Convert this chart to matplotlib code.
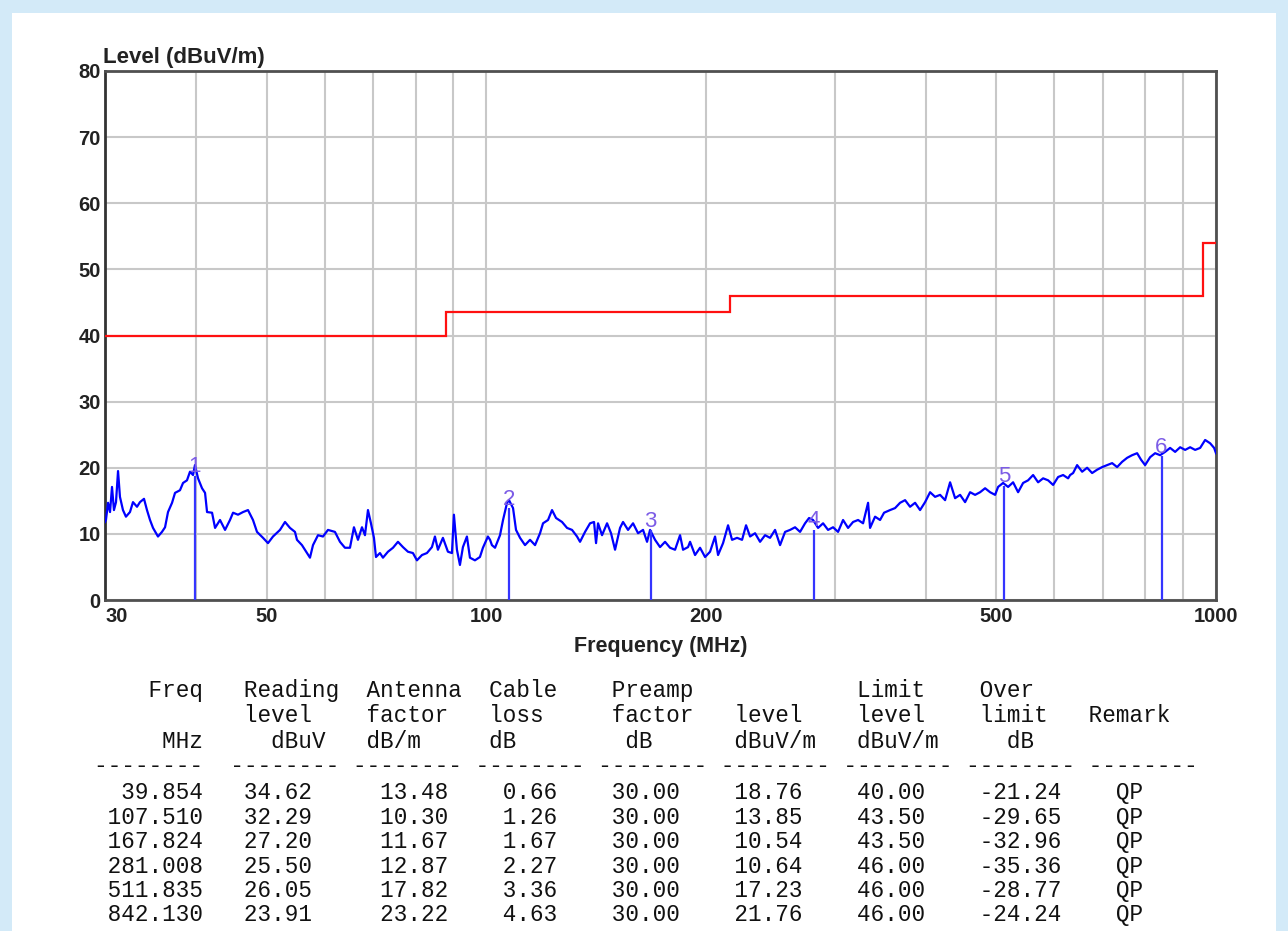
import matplotlib
matplotlib.use('Agg')
import matplotlib.pyplot as plt
from matplotlib.patches import Rectangle
from matplotlib.ticker import FixedLocator, NullFormatter

trace_freq = [30.0, 30.09, 30.29, 30.48, 30.67, 30.86, 31.06, 31.26, 31.45, 31.75,
              32.05, 32.46, 32.77, 33.19, 33.50, 33.93, 34.25, 34.58, 34.91, 35.46,
              35.91, 36.26, 36.60, 37.07, 37.42, 38.01, 38.38, 38.86, 39.23, 39.61,
              39.85, 40.24, 40.75, 41.14, 41.40, 42.06, 42.46, 43.13, 43.82, 44.51,
              44.94, 45.65, 46.38, 47.11, 47.86, 48.47, 49.40, 50.18, 50.98, 52.12,
              52.95, 53.79, 54.64, 54.99, 55.86, 56.75, 57.29, 57.84, 58.76, 59.69,
              60.64, 61.99, 62.98, 63.98, 65.00, 65.82, 66.66, 67.51, 68.15, 68.80,
              69.45, 70.11, 70.56, 71.45, 72.13, 73.28, 74.45, 75.63, 76.83, 78.05,
              79.29, 80.30, 81.58, 82.87, 84.19, 84.99, 85.80, 87.16, 88.55, 89.68,
              90.24, 91.10, 91.97, 92.84, 94.02, 94.92, 96.43, 97.96, 98.89, 100.46,
              101.14, 101.74, 102.74, 104.37, 105.37, 106.71, 107.38, 108.75, 109.78, 111.18,
              112.94, 114.74, 116.57, 118.42, 119.55, 121.45, 122.99, 124.56, 126.94, 128.96,
              131.01, 133.09, 134.36, 136.50, 138.67, 140.43, 141.32, 142.22, 144.02, 146.32,
              148.17, 150.06, 152.44, 153.89, 156.34, 158.83, 161.36, 163.92, 166.01, 167.59,
              170.25, 172.96, 175.71, 178.51, 181.35, 184.23, 185.98, 188.94, 190.14, 193.16,
              196.23, 199.36, 202.53, 205.75, 207.71, 211.01, 214.37, 217.09, 220.55, 224.06,
              226.90, 229.79, 233.44, 237.15, 240.93, 244.76, 248.65, 252.61, 256.63, 260.71,
              264.86, 269.07, 273.35, 276.82, 280.34, 284.80, 289.33, 293.93, 298.61, 303.35,
              308.18, 313.09, 318.07, 323.13, 328.27, 333.49, 335.60, 340.94, 346.36, 350.76,
              357.47, 363.16, 368.94, 374.81, 380.77, 386.83, 392.98, 399.24, 405.59, 412.04,
              418.60, 425.26, 432.02, 438.89, 445.88, 452.97, 460.18, 467.50, 474.94, 482.49,
              490.17, 497.97, 502.70, 510.70, 518.83, 527.08, 535.47, 543.99, 552.64, 561.44,
              570.37, 579.44, 588.66, 598.03, 607.54, 617.21, 627.03, 631.0, 637.0, 645.1,
              655.4, 665.8, 676.4, 687.1, 698.1, 709.2, 720.5, 731.9, 743.6, 755.4,
              767.4, 779.6, 789.5, 799.5, 812.3, 825.2, 838.3, 851.6, 865.2, 879.0,
              893.0, 907.2, 921.6, 936.3, 951.2, 966.3, 981.7, 994.1, 1000.0]
trace_level = [11.8, 12.1, 14.7, 13.3, 17.1, 13.6, 14.8, 19.5, 15.6, 13.6,
               12.6, 13.3, 14.8, 14.1, 14.8, 15.3, 13.6, 12.1, 10.9, 9.6,
               10.3, 11.0, 13.3, 14.7, 16.2, 16.6, 17.7, 18.1, 19.4, 18.9,
               20.4, 18.4, 16.9, 16.2, 13.3, 13.2, 10.9, 12.1, 10.6, 12.1,
               13.2, 12.9, 13.3, 13.6, 12.1, 10.3, 9.4, 8.6, 9.6, 10.6,
               11.8, 10.9, 10.3, 9.1, 8.3, 7.1, 6.4, 8.3, 9.8, 9.6,
               10.6, 10.3, 8.8, 7.9, 7.9, 11.0, 9.1, 11.0, 9.8, 13.6,
               11.6, 9.4, 6.5, 7.1, 6.4, 7.3, 7.9, 8.8, 8.0, 7.3,
               7.1, 6.0, 6.8, 7.1, 8.0, 9.6, 7.6, 9.4, 7.3, 7.1,
               12.9, 7.6, 5.3, 8.0, 9.6, 6.4, 6.0, 6.5, 7.9, 9.6,
               9.1, 8.3, 7.9, 9.8, 12.1, 14.7, 15.1, 13.9, 10.6, 9.4,
               8.3, 9.1, 8.3, 10.1, 11.6, 12.1, 13.6, 12.4, 11.8, 10.9,
               10.6, 9.6, 8.8, 10.3, 11.6, 11.8, 8.6, 11.6, 9.8, 11.6,
               10.1, 7.6, 10.9, 11.8, 10.6, 11.6, 10.1, 10.6, 8.8, 10.6,
               9.1, 8.0, 8.8, 7.9, 7.6, 9.8, 7.6, 8.0, 8.8, 6.8,
               7.9, 6.5, 7.3, 9.6, 6.8, 8.6, 11.3, 9.1, 9.4, 9.1,
               11.3, 9.6, 10.1, 8.8, 9.8, 9.4, 10.6, 8.3, 10.3, 10.6,
               11.0, 10.3, 11.6, 12.4, 12.1, 10.9, 11.6, 10.6, 11.0, 10.3,
               12.1, 10.9, 11.8, 12.1, 11.6, 14.7, 10.9, 12.6, 12.1, 13.2,
               13.6, 13.9, 14.7, 15.1, 14.1, 14.7, 13.6, 14.8, 16.3, 15.6,
               15.9, 15.1, 17.8, 15.4, 15.9, 14.8, 16.3, 15.9, 16.3, 16.9,
               16.3, 15.9, 17.1, 17.7, 17.1, 17.8, 16.3, 17.7, 18.1, 18.9,
               17.8, 18.4, 18.1, 17.4, 18.6, 18.9, 18.4, 18.9, 19.2, 20.4,
               19.4, 20.0, 19.2, 19.7, 20.1, 20.4, 20.7, 20.1, 20.9, 21.5,
               21.9, 22.2, 21.2, 20.4, 21.6, 22.2, 21.9, 22.4, 23.0, 22.4,
               23.1, 22.7, 23.1, 22.7, 23.0, 24.2, 23.7, 23.0, 22.2]

# limit line (FCC class B, 3 m)
limit_edges = [30, 88, 216, 960, 1000]
limit_values = [40.0, 43.5, 46.0, 54.0]

# final measurement table
freqs = [39.854, 107.510, 167.824, 281.008, 511.835, 842.130]
reading = [34.62, 32.29, 27.20, 25.50, 26.05, 23.91]
antenna = [13.48, 10.30, 11.67, 12.87, 17.82, 23.22]
cable = [0.66, 1.26, 1.67, 2.27, 3.36, 4.63]
preamp = [30.00, 30.00, 30.00, 30.00, 30.00, 30.00]
level = [18.76, 13.85, 10.54, 10.64, 17.23, 21.76]
limit = [40.00, 43.50, 43.50, 46.00, 46.00, 46.00]
over = [-21.24, -29.65, -32.96, -35.36, -28.77, -24.24]
remark = ['QP', 'QP', 'QP', 'QP', 'QP', 'QP']

xtick_major = [30, 50, 100, 200, 500, 1000]
xtick_minor = [40, 60, 70, 80, 90, 300, 400, 600, 700, 800, 900]
yticks = [0, 10, 20, 30, 40, 50, 60, 70, 80]

W, H = 1288, 931
fig = plt.figure(figsize=(W / 100, H / 100), dpi=100)
fig.patch.set_facecolor('#d3eaf8')
fig.add_artist(Rectangle((12 / W, 0), (1276 - 12) / W, (H - 13) / H,
                         transform=fig.transFigure, facecolor='white',
                         edgecolor='none', zorder=0))

ax = fig.add_axes([105 / W, 1 - 600 / H, (1216 - 105) / W, (600 - 71) / H])
ax.set_xscale('log')
ax.set_xlim(30, 1000)
ax.set_ylim(0, 80)

ax.xaxis.set_major_locator(FixedLocator(xtick_major))
ax.xaxis.set_minor_locator(FixedLocator(xtick_minor))
ax.xaxis.set_minor_formatter(NullFormatter())
ax.set_xticklabels([str(t) for t in xtick_major])
ax.set_yticks(yticks)
ax.grid(which='both', color='#c8c8c8', lw=1.5)
ax.set_axisbelow(True)
ax.tick_params(which='both', length=0, labelsize=14.5, colors='#222222')
ax.tick_params(axis='x', pad=5)
ax.tick_params(axis='y', pad=3)
for lab in ax.get_xticklabels() + ax.get_yticklabels():
    lab.set_fontweight('bold')
    lab.set_family('Liberation Sans')
ax.get_xticklabels()[0].set_ha('left')
for sp in ax.spines.values():
    sp.set_color('#505050')
    sp.set_linewidth(2)
ax.spines['left'].set_color('#333333')

ax.stairs(limit_values, limit_edges, baseline=None, color='#ff1010', lw=1.6, zorder=3)
ax.plot(trace_freq, trace_level, color='#0000ff', lw=1.6, zorder=4)

for i, (f, lv) in enumerate(zip(freqs, level)):
    ax.vlines(f, 0, lv, color='#3535ff', lw=1.6, zorder=5)
    ax.annotate(str(i + 1), (f, lv), xytext=(0, -1), textcoords='offset points',
                ha='center', va='bottom', color='#7c5ce6', fontsize=16,
                family='Liberation Sans', zorder=6)

ax.text(-0.002, 1.006, 'Level (dBuV/m)', transform=ax.transAxes, ha='left', va='bottom',
        fontsize=16, fontweight='bold', family='Liberation Sans', color='#222222')
ax.set_xlabel('Frequency (MHz)', fontsize=15.5, fontweight='bold',
              family='Liberation Sans', color='#222222', labelpad=7)


def line_at(items):
    s = ''
    for idx, txt in items:
        s = s.ljust(idx) + txt
    return s


groups = [0, 10, 19, 28, 37, 46, 55, 64, 73]
lines = [
    line_at([(4, 'Freq'), (11, 'Reading'), (20, 'Antenna'), (29, 'Cable'),
             (38, 'Preamp'), (56, 'Limit'), (65, 'Over')]),
    line_at([(11, 'level'), (20, 'factor'), (29, 'loss'), (38, 'factor'),
             (47, 'level'), (56, 'level'), (65, 'limit'), (73, 'Remark')]),
    line_at([(5, 'MHz'), (13, 'dBuV'), (20, 'dB/m'), (29, 'dB'), (39, 'dB'),
             (47, 'dBuV/m'), (56, 'dBuV/m'), (67, 'dB')]),
    line_at([(g, '--------') for g in groups]),
]
for k in range(len(freqs)):
    lines.append(line_at([(0, f'{freqs[k]:8.3f}'), (11, f'{reading[k]:.2f}'),
                          (20, f'{antenna[k]:6.2f}'), (29, f'{cable[k]:5.2f}'),
                          (38, f'{preamp[k]:.2f}'), (47, f'{level[k]:.2f}'),
                          (56, f'{limit[k]:.2f}'), (65, f'{over[k]:.2f}'),
                          (75, remark[k])]))

ys = [690, 716, 741, 766] + [793 + 24.4 * k for k in range(len(freqs))]
for txt, y in zip(lines, ys):
    fig.text(94 / W, 1 - y / H, txt, ha='left', va='center', fontsize=16.3,
             family='Liberation Mono', color='#111111')

fig.savefig('out.png', dpi=100, facecolor=fig.get_facecolor())
